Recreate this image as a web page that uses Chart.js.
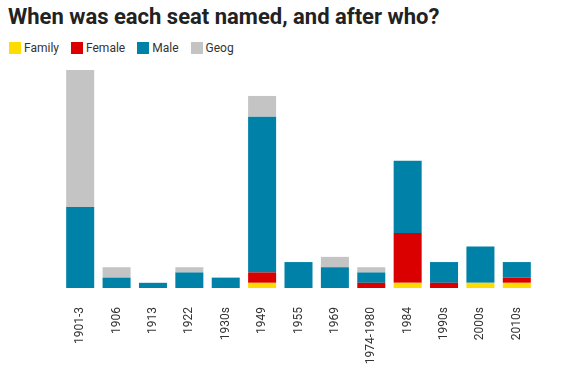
<!DOCTYPE html>
<html>
<head>
<meta charset="utf-8">
<script src="https://cdn.jsdelivr.net/npm/chart.js@4.4.1/dist/chart.umd.min.js"></script>
<style>
  html, body { margin: 0; padding: 0; background: #fff; }
  body { width: 587px; height: 369px; position: relative; overflow: hidden; font-family: Roboto, sans-serif; }
  #title { position: absolute; left: 8px; top: 4px; font-size: 22px; font-weight: bold; color: #222; white-space: nowrap; }
  #legend { position: absolute; left: 9px; top: 41px; font-size: 12px; color: #333; display: flex; }
  #legend span { display: flex; align-items: center; margin-right: 12px; }
  #legend i { display: inline-block; width: 12px; height: 12px; margin-right: 3px; }
  #wrap { position: absolute; left: 0; top: 0; width: 587px; height: 369px; }
</style>
</head>
<body>
<div id="title">When was each seat named, and after who?</div>
<div id="legend"></div>
<div id="wrap"><canvas id="chart"></canvas></div>
<script>
const periods = ['1901-3', '1906', '1913', '1922', '1930s', '1949', '1955', '1969', '1974-1980', '1984', '1990s', '2000s', '2010s'];
const family = [0, 0, 0, 0, 0, 1, 0, 0, 0, 1, 0, 1, 1];
const female = [0, 0, 0, 0, 0, 2, 0, 0, 1, 9.6, 1, 0, 1];
const male   = [15.6, 2, 1, 3, 2, 30, 5, 4, 2, 13.9, 4, 7, 3];
const geog   = [26.4, 2, 0, 1, 0, 4, 0, 2, 1, 0, 0, 0, 0];

const seriesNames = ['Family', 'Female', 'Male', 'Geog'];
const seriesColors = ['#FFDB00', '#DB0000', '#0081A8', '#C4C4C4'];
const seriesData = [family, female, male, geog];

const legend = document.getElementById('legend');
seriesNames.forEach((name, i) => {
  const item = document.createElement('span');
  item.innerHTML = `<i style="background:${seriesColors[i]}"></i>${name}`;
  legend.appendChild(item);
});

const ctx = document.getElementById('chart').getContext('2d');
new Chart(ctx, {
  type: 'bar',
  data: {
    labels: periods,
    datasets: seriesNames.map((name, i) => ({
      label: name,
      data: seriesData[i],
      backgroundColor: seriesColors[i],
      borderWidth: 0,
      barPercentage: 0.77,
      categoryPercentage: 1
    }))
  },
  options: {
    responsive: true,
    maintainAspectRatio: false,
    animation: false,
    layout: { padding: { top: 70, left: 62, right: 52, bottom: 0 } },
    scales: {
      x: {
        stacked: true,
        grid: { display: false, drawTicks: false },
        border: { display: false },
        afterFit: axis => { axis.height = 81; },
        ticks: {
          color: '#333',
          font: { family: 'Roboto', size: 12 },
          minRotation: 90,
          maxRotation: 90,
          autoSkip: false,
          padding: 19
        }
      },
      y: {
        stacked: true,
        display: false,
        min: 0,
        max: 42
      }
    },
    plugins: {
      legend: { display: false },
      tooltip: { enabled: false }
    }
  }
});
</script>
</body>
</html>
